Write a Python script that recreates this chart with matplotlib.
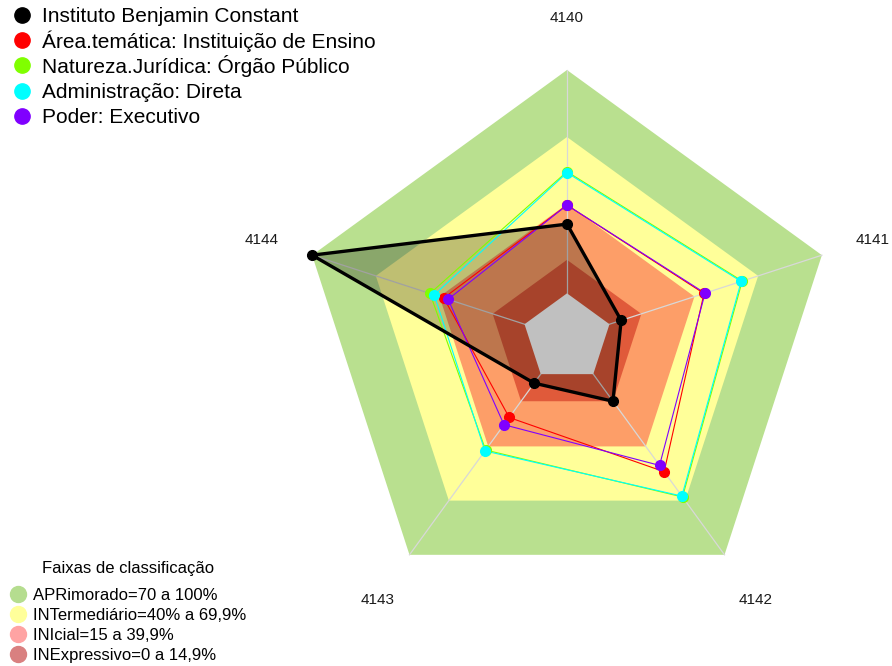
import numpy as np
import matplotlib.pyplot as plt
from matplotlib.patches import Polygon
from matplotlib.lines import Line2D

plt.rcParams['font.family'] = ['Liberation Sans', 'DejaVu Sans']

# eixos do radar (sentido horario a partir do topo)
eixos = ['4140', '4141', '4142', '4143', '4144']

# valores (%) por eixo
ibc = [31, 5.5, 15, 5, 100]
area_tematica = [39.5, 44.5, 54, 24, 38]
natureza_juridica = [54.5, 62.5, 68, 42, 44.5]
administracao = [54, 62, 67.5, 42.5, 42.5]
poder = [39.5, 45, 50.5, 28, 36]

nomes = ['Instituto Benjamin Constant',
         'Área.temática: Instituição de Ensino',
         'Natureza.Jurídica: Órgão Público',
         'Administração: Direta',
         'Poder: Executivo']
cores = ['black', '#FF0000', '#80FF00', '#00FFFF', '#8000FF']

# faixas de classificacao
faixas_lim = [100, 70, 40, 15]
faixas_cores = ['#B9E08F', '#FFFF99', '#FD9E68', '#E05A3A']
faixas_nomes = ['APRimorado=70 a 100%',
                'INTermediário=40% a 69,9%',
                'INIcial=15 a 39,9%',
                'INExpressivo=0 a 14,9%']
faixas_leg_cores = ['#B5DD8F', '#FFFF9A', '#FFA3A3', '#D98080']

ang = np.deg2rad(90 - 72 * np.arange(len(eixos)))


def raio(v):
    # centro vazio como no fmsb (seg=5)
    return 1 / 6 + 5 / 6 * np.asarray(v, dtype=float) / 100


def xy(v):
    r = raio(v)
    return np.column_stack([r * np.cos(ang), r * np.sin(ang)])


W, H = 892, 666
fig = plt.figure(figsize=(W / 100, H / 100), dpi=100)
ax = fig.add_axes([0, 0, 1, 1])
R = 268.0
ax.set_xlim(-567 / R, (W - 567) / R)
ax.set_ylim(-(H - 338) / R, 338 / R)
ax.axis('off')

# faixas
for lim, c in zip(faixas_lim, faixas_cores):
    ax.add_patch(Polygon(xy([lim] * 5), closed=True, facecolor=c,
                         edgecolor='none', zorder=1))

# linhas dos eixos
for a in ang:
    ax.plot([raio(0) * np.cos(a), np.cos(a)], [raio(0) * np.sin(a), np.sin(a)],
            color='#D8D8D8', lw=0.9, zorder=2)

# rotulos dos eixos
for a, nome in zip(ang, eixos):
    ax.text(1.2 * np.cos(a), 1.2 * np.sin(a), nome, ha='center',
            va='center_baseline', fontsize=11, color='#1a1a1a')

valores = [ibc, area_tematica, natureza_juridica, administracao, poder]

# preenchimento da IES
p = xy(ibc)
ax.add_patch(Polygon(p, closed=True, facecolor='black', alpha=0.25,
                     edgecolor='none', zorder=3))

# centro cinza
ax.add_patch(Polygon(xy([0] * 5), closed=True, facecolor='#C0C0C0',
                     edgecolor='none', zorder=3.5))

for v, c in list(zip(valores, cores))[1:]:
    p = xy(v)
    p = np.vstack([p, p[:1]])
    ax.plot(p[:, 0], p[:, 1], color=c, lw=0.8, zorder=4)
    ax.plot(p[:-1, 0], p[:-1, 1], 'o', color=c, ms=7, zorder=5)

p = xy(ibc)
p = np.vstack([p, p[:1]])
ax.plot(p[:, 0], p[:, 1], color='black', lw=2.4, zorder=6)
ax.plot(p[:-1, 0], p[:-1, 1], 'o', color='black', ms=7, zorder=7)


def legenda(nomes_leg, cores_leg, x_marca, x_texto, y0, passo, fs, ms):
    # legenda manual com linhas igualmente espacadas (em pixels)
    desloc = 0.36 * fs * 100 / 72
    for i, (nome, c) in enumerate(zip(nomes_leg, cores_leg)):
        y = y0 + passo * i
        fig.add_artist(Line2D([x_marca / W], [1 - y / H], marker='o', ls='none',
                              color=c, ms=ms, transform=fig.transFigure))
        fig.text(x_texto / W, 1 - (y + desloc) / H, nome, ha='left',
                 va='baseline', fontsize=fs)


legenda(nomes, cores, 22, 42, 15, 25.2, 15, 11)
legenda(faixas_nomes, faixas_leg_cores, 18, 33, 594, 20, 12, 11.5)
fig.text(128 / W, 1 - 569 / H, 'Faixas de classificação', ha='center',
         va='center', fontsize=12)

fig.savefig('out.png', dpi=100)
